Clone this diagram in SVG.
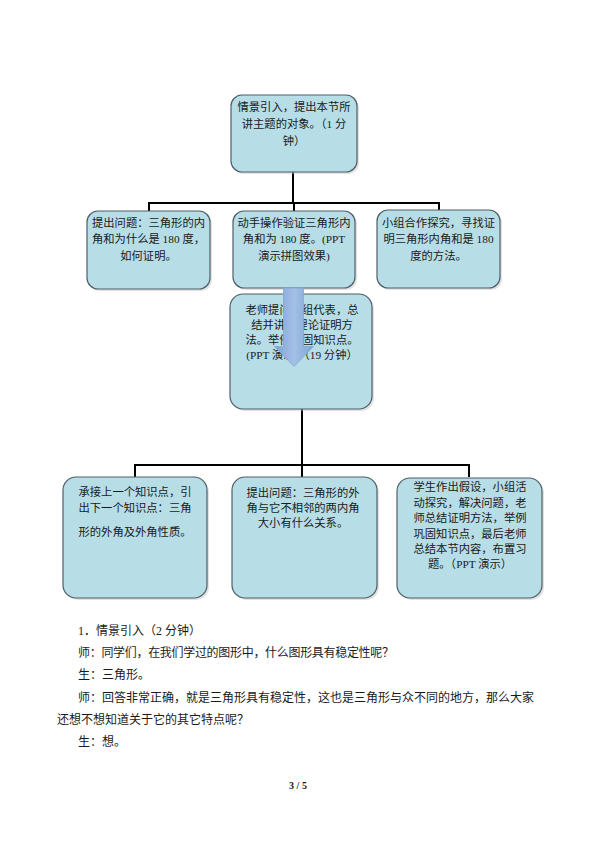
<svg xmlns="http://www.w3.org/2000/svg" width="595" height="841" viewBox="0 0 595 841">
<style>
.box{fill:#B7DDE6;stroke:#4f5f68;stroke-width:1.2}
.sh{fill:#bfbfbf;opacity:0.45}
.t{font-family:'Liberation Serif','Noto Sans CJK SC',serif;font-size:11.3px;fill:#1a1a1a;text-anchor:middle}
.b{font-family:'Liberation Serif','Noto Sans CJK SC',serif;font-size:12px;fill:#1a1a1a}
.ln{stroke:#000;stroke-width:2;fill:none}
</style>
<defs>
<linearGradient id="ag" x1="0" y1="0" x2="1" y2="0">
<stop offset="0" stop-color="#7DA4D7"/>
<stop offset="0.5" stop-color="#A3C0E5"/>
<stop offset="1" stop-color="#7DA4D7"/>
</linearGradient>
</defs>
<rect width="595" height="841" fill="#fff"/>
<g id="connectors">
<path class="ln" d="M293,172V203M149,203H440M149,202V211M294,202V211M439,202V211"/>
<path class="ln" d="M302,409V465M135,465H470M135,464V477M302,464V477M469,464V477"/>
</g>
<g id="n1">
<rect class="sh" x="233" y="97" width="126" height="77" rx="11"/>
<rect class="box" x="231" y="95" width="126" height="77" rx="11"/>
<text class="t" x="294" y="111">情景引入，提出本节所</text>
<text class="t" x="294" y="128">讲主题的对象。（1 分</text>
<text class="t" x="294" y="145">钟）</text>
</g>
<g id="n2">
<rect class="sh" x="89" y="213" width="123" height="78" rx="11"/>
<rect class="box" x="87" y="211" width="123" height="78" rx="11"/>
<text class="t" x="148.5" y="227">提出问题：三角形的内</text>
<text class="t" x="148.5" y="243">角和为什么是 180 度，</text>
<text class="t" x="148.5" y="260">如何证明。</text>
</g>
<g id="n3">
<rect class="sh" x="235" y="213" width="122" height="77" rx="11"/>
<rect class="box" x="233" y="211" width="122" height="77" rx="11"/>
<text class="t" x="294" y="227">动手操作验证三角形内</text>
<text class="t" x="294" y="243">角和为 180 度。(PPT</text>
<text class="t" x="294" y="260">演示拼图效果)</text>
</g>
<g id="n4">
<rect class="sh" x="379" y="212" width="123" height="78" rx="11"/>
<rect class="box" x="377" y="210" width="123" height="78" rx="11"/>
<text class="t" x="438.5" y="227">小组合作探究，寻找证</text>
<text class="t" x="438.5" y="243">明三角形内角和是 180</text>
<text class="t" x="438.5" y="260">度的方法。</text>
</g>
<g id="n5">
<rect class="sh" x="232" y="296" width="142" height="115" rx="13"/>
<rect class="box" x="230" y="294" width="142" height="115" rx="13"/>
<text class="t" x="302" y="314">老师提问小组代表，总</text>
<text class="t" x="302" y="329">结并讲解理论证明方</text>
<text class="t" x="302" y="344">法。举例巩固知识点。</text>
<text class="t" x="302" y="359">(PPT 演示)（19 分钟）</text>
</g>
<g id="arrow">
<path d="M283.5,288H303.5V346.5H313.5L294,366.5L274.5,346.5H283.5Z" fill="url(#ag)" stroke="#86A6D2" stroke-width="0.8"/>
</g>
<g id="n6">
<rect class="sh" x="65" y="479" width="144" height="121" rx="13"/>
<rect class="box" x="63" y="477" width="144" height="121" rx="13"/>
<text class="t" x="135" y="496">承接上一个知识点，引</text>
<text class="t" x="135" y="512">出下一个知识点：三角</text>
<text class="t" x="135" y="536">形的外角及外角性质。</text>
</g>
<g id="n7">
<rect class="sh" x="234" y="479" width="145" height="121" rx="13"/>
<rect class="box" x="232" y="477" width="145" height="121" rx="13"/>
<text class="t" x="303" y="497">提出问题：三角形的外</text>
<text class="t" x="303" y="512">角与它不相邻的两内角</text>
<text class="t" x="303" y="527">大小有什么关系。</text>
</g>
<g id="n8">
<rect class="sh" x="399" y="480" width="145" height="120" rx="13"/>
<rect class="box" x="397" y="478" width="145" height="120" rx="13"/>
<text class="t" x="470" y="491">学生作出假设，小组活</text>
<text class="t" x="470" y="507">动探究，解决问题，老</text>
<text class="t" x="470" y="522">师总结证明方法，举例</text>
<text class="t" x="470" y="538">巩固知识点，最后老师</text>
<text class="t" x="470" y="553">总结本节内容，布置习</text>
<text class="t" x="470" y="568">题。（PPT 演示）</text>
</g>
<g id="body">
<text class="b" x="78" y="635">1．情景引入（2 分钟）</text>
<text class="b" x="78" y="657" textLength="316">师：同学们，在我们学过的图形中，什么图形具有稳定性呢？</text>
<text class="b" x="78" y="679">生：三角形。</text>
<text class="b" x="78" y="702" textLength="456">师：回答非常正确，就是三角形具有稳定性，这也是三角形与众不同的地方，那么大家</text>
<text class="b" x="57" y="724">还想不想知道关于它的其它特点呢？</text>
<text class="b" x="78" y="746">生：想。</text>
<text x="298" y="789" font-family="'Liberation Serif',serif" font-size="10px" font-weight="bold" text-anchor="middle" fill="#1a1a1a">3 / 5</text>
</g>
</svg>
